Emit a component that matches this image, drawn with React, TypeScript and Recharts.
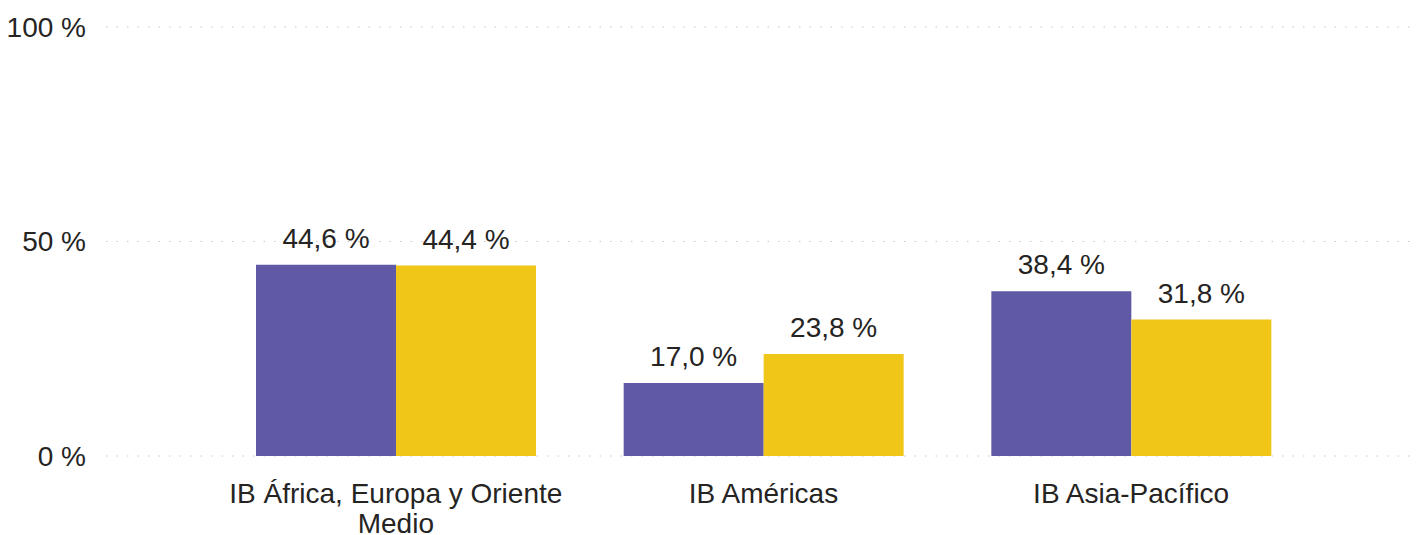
import { BarChart, Bar, XAxis, YAxis, CartesianGrid, LabelList } from 'recharts'

const categories = ['IB África, Europa y Oriente Medio', 'IB Américas', 'IB Asia-Pacífico']
const seriesA = [44.6, 17.0, 38.4]
const seriesB = [44.4, 23.8, 31.8]
const yTicks = [0, 50, 100]

const data = categories.map((name, i) => ({ name, a: seriesA[i], b: seriesB[i] }))

const FONT = '"Liberation Sans", Arial, sans-serif'
const TEXT = '#252423'
const SIZE = 28

const fmt = (v: number) => `${v.toFixed(1).replace('.', ',')} %`

// greedy word wrap measured with a canvas
const wrap = (str: string, maxWidth: number) => {
  const ctx = document.createElement('canvas').getContext('2d')
  if (!ctx) return [str]
  ctx.font = `${SIZE}px ${FONT}`
  const lines: string[] = []
  let cur = ''
  for (const w of str.split(' ')) {
    const next = cur ? `${cur} ${w}` : w
    if (cur && ctx.measureText(next).width > maxWidth) {
      lines.push(cur)
      cur = w
    } else {
      cur = next
    }
  }
  if (cur) lines.push(cur)
  return lines
}

const YTick = ({ y, payload }: any) => (
  <text x={86} y={y} dy="0.355em" textAnchor="end" fontSize={SIZE} fill={TEXT} fontFamily={FONT}>
    {`${payload.value} %`}
  </text>
)

const XTick = ({ x, y, payload }: any) => {
  const lines = wrap(String(payload.value), 360)
  return (
    <text x={x} y={y + 39} textAnchor="middle" fontSize={SIZE} fill={TEXT} fontFamily={FONT}>
      {lines.map((l, i) => (
        <tspan key={i} x={x} dy={i === 0 ? 0 : 30}>
          {l}
        </tspan>
      ))}
    </text>
  )
}

const App = () => {
  return (
    <div style={{ position: 'absolute', left: 0, top: 0, background: '#fff' }}>
      <BarChart
        width={1419}
        height={535}
        data={data}
        margin={{ top: 27, right: 4, left: 0, bottom: 0 }}
        barGap={0}
        barSize={140}
      >
        <CartesianGrid vertical={false} stroke="#c8c8c8" strokeDasharray="1.5 9" />
        <XAxis
          dataKey="name"
          axisLine={false}
          tickLine={false}
          height={79}
          padding={{ left: 106, right: 100 }}
          tick={<XTick />}
          interval={0}
        />
        <YAxis
          domain={[0, 100]}
          ticks={yTicks}
          width={106}
          axisLine={false}
          tickLine={false}
          tick={<YTick />}
        />
        <Bar dataKey="a" fill="#6059a5" isAnimationActive={false}>
          <LabelList dataKey="a" position="top" offset={17} formatter={(v: any) => fmt(Number(v))} fontSize={SIZE} fill={TEXT} fontFamily={FONT} />
        </Bar>
        <Bar dataKey="b" fill="#f0c618" isAnimationActive={false}>
          <LabelList dataKey="b" position="top" offset={17} formatter={(v: any) => fmt(Number(v))} fontSize={SIZE} fill={TEXT} fontFamily={FONT} />
        </Bar>
      </BarChart>
    </div>
  )
}

export default App
